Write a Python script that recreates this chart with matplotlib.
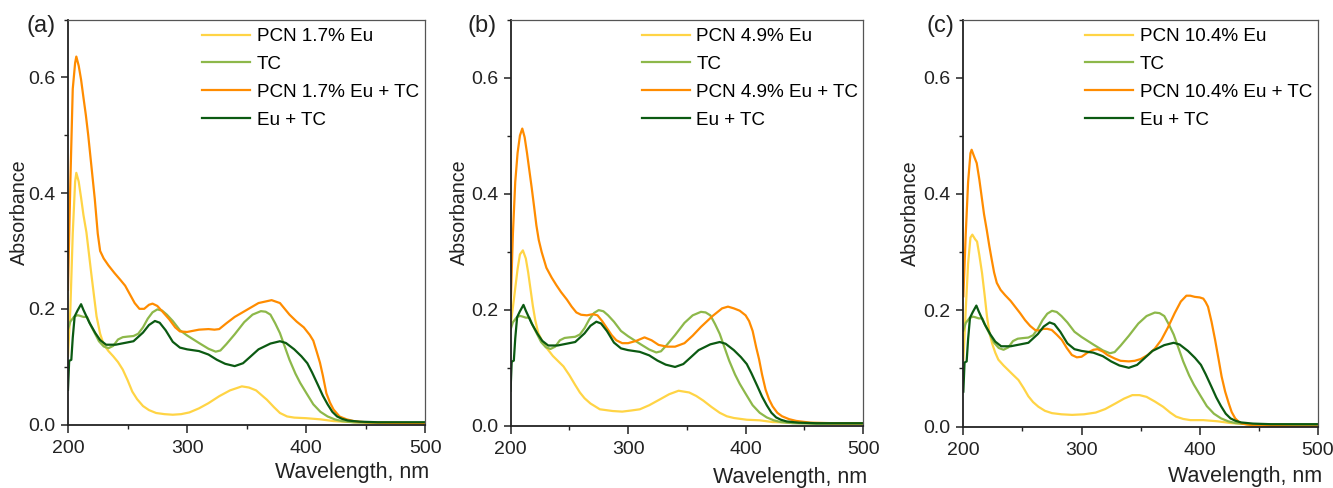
import matplotlib
matplotlib.use('Agg')
import matplotlib.pyplot as plt
from matplotlib.ticker import MultipleLocator

plt.rcParams['font.family'] = ['Liberation Sans', 'DejaVu Sans']
plt.rcParams["savefig.dpi"] = 100

# TC alone and Eu + TC (same in all three panels)
tc_wl = [200, 202, 205, 208, 210, 213, 216, 219, 222, 226, 230, 234, 238, 242, 246, 250, 255, 259,
         263, 267, 271, 275, 279, 283, 288, 294, 300, 310, 318, 324, 328, 333, 340, 348, 355, 362,
         366, 370, 374, 378, 382, 386, 391, 395, 400, 406, 412, 418, 424, 430, 440, 460, 480, 500]
tc_abs = [0.165, 0.178, 0.186, 0.189, 0.188, 0.186, 0.186, 0.172, 0.160, 0.144, 0.135, 0.132, 0.136,
          0.147, 0.151, 0.152, 0.153, 0.157, 0.168, 0.183, 0.194, 0.199, 0.197, 0.190, 0.179, 0.163,
          0.154, 0.141, 0.131, 0.126, 0.128, 0.139, 0.156, 0.177, 0.190, 0.196, 0.195, 0.190, 0.175,
          0.158, 0.135, 0.112, 0.088, 0.072, 0.055, 0.035, 0.022, 0.014, 0.009, 0.006, 0.004, 0.003,
          0.003, 0.003]

eutc_wl = [200, 201, 202.8, 204, 205.6, 208, 211, 213, 218, 223, 227, 232, 240, 245, 255, 263, 268,
           273, 277, 282, 288, 294, 300, 310, 318, 325, 332, 340, 347, 353, 360, 370, 378, 383, 390,
           396, 401, 405, 410, 414, 418, 422, 426, 430, 435, 445, 460, 480, 500]
eutc_abs = [0.060, 0.110, 0.112, 0.150, 0.187, 0.197, 0.208, 0.198, 0.176, 0.158, 0.146, 0.138,
            0.138, 0.140, 0.144, 0.159, 0.172, 0.179, 0.176, 0.163, 0.143, 0.133, 0.130, 0.127,
            0.121, 0.112, 0.105, 0.101, 0.106, 0.117, 0.130, 0.140, 0.144, 0.141, 0.130, 0.118,
            0.106, 0.090, 0.068, 0.050, 0.035, 0.022, 0.014, 0.010, 0.007, 0.005, 0.004, 0.004, 0.004]

# (a) PCN 1.7% Eu
pcn_a_wl = [200, 202, 204, 206, 207, 209, 211, 213, 215.5, 217.5, 219.5, 222, 224, 227, 230, 234,
            238, 242, 246, 250, 254, 258, 263, 268, 274, 281, 288, 295, 302, 310, 318, 327, 336,
            346, 352, 358, 367, 373, 378, 384, 390, 400, 412, 423, 440, 460, 500]
pcn_a_abs = [0.118, 0.200, 0.330, 0.420, 0.435, 0.420, 0.392, 0.362, 0.332, 0.297, 0.262, 0.220,
             0.187, 0.157, 0.138, 0.127, 0.118, 0.108, 0.095, 0.077, 0.057, 0.044, 0.032, 0.025,
             0.020, 0.018, 0.017, 0.018, 0.021, 0.028, 0.037, 0.049, 0.059, 0.066, 0.064, 0.059,
             0.043, 0.030, 0.020, 0.014, 0.012, 0.011, 0.009, 0.006, 0.004, 0.003, 0.002]
pcntc_a_wl = [200, 202, 204, 206, 207, 209, 211, 213, 215, 217, 220, 222.5, 225, 227, 230, 234, 239,
              244, 248, 252, 256, 260, 264, 268, 271, 275, 279, 285, 290, 294, 300, 310, 318, 323,
              327, 333, 340, 350, 360, 371, 378, 386, 392, 398, 403, 406, 409, 411.6, 414, 417,
              420, 423, 428, 434, 440, 450, 470, 500]
pcntc_a_abs = [0.233, 0.420, 0.580, 0.625, 0.636, 0.620, 0.596, 0.565, 0.535, 0.500, 0.440, 0.390,
               0.330, 0.300, 0.287, 0.275, 0.262, 0.250, 0.240, 0.225, 0.210, 0.200, 0.200, 0.207,
               0.209, 0.205, 0.196, 0.182, 0.168, 0.161, 0.160, 0.164, 0.165, 0.164, 0.165, 0.175,
               0.186, 0.198, 0.210, 0.215, 0.210, 0.190, 0.178, 0.168, 0.155, 0.145, 0.125, 0.107,
               0.085, 0.054, 0.038, 0.026, 0.014, 0.009, 0.006, 0.004, 0.003, 0.002]

# (b) PCN 4.9% Eu
pcn_b_wl = [200, 203, 206, 208, 210.5, 213, 215, 217, 219, 221, 223.5, 227, 231, 236, 241, 245, 250,
            255, 259, 263, 268, 276, 287, 295, 303, 310, 318, 327, 335, 343, 352, 358, 364, 371,
            378, 384, 390, 401, 412, 423, 440, 460, 500]
pcn_b_abs = [0.172, 0.220, 0.270, 0.295, 0.302, 0.288, 0.264, 0.235, 0.206, 0.182, 0.160, 0.145,
             0.133, 0.120, 0.110, 0.102, 0.087, 0.070, 0.057, 0.047, 0.038, 0.028, 0.025, 0.024,
             0.026, 0.028, 0.035, 0.045, 0.054, 0.060, 0.057, 0.051, 0.043, 0.032, 0.022, 0.016,
             0.013, 0.010, 0.009, 0.006, 0.005, 0.004, 0.003]
pcntc_b_wl = [200, 202, 204, 206, 208, 210, 212, 214, 216, 218, 220, 222, 224, 226.5, 230.5, 235,
              239, 243, 248, 252, 256, 260, 265, 270, 274, 278, 282, 286, 290, 295, 300, 307, 314,
              320, 326, 333, 340, 348, 355, 362, 372, 380, 385, 390, 395, 400, 403, 406, 409,
              411.5, 414, 417, 420, 423, 427, 431, 437, 443, 455, 475, 500]
pcntc_b_abs = [0.200, 0.330, 0.420, 0.470, 0.500, 0.512, 0.497, 0.470, 0.440, 0.410, 0.378, 0.345,
               0.320, 0.299, 0.272, 0.255, 0.242, 0.230, 0.217, 0.205, 0.195, 0.191, 0.190, 0.192,
               0.190, 0.180, 0.168, 0.156, 0.147, 0.142, 0.142, 0.146, 0.152, 0.147, 0.139, 0.136,
               0.136, 0.142, 0.155, 0.170, 0.189, 0.202, 0.205, 0.202, 0.198, 0.190, 0.180, 0.163,
               0.135, 0.114, 0.088, 0.062, 0.045, 0.033, 0.022, 0.016, 0.011, 0.008, 0.005, 0.004,
               0.004]

# (c) PCN 10.4% Eu
pcn_c_wl = [200, 202, 204, 206, 207.6, 210, 211.6, 213.5, 215.8, 218, 220, 222, 224.3, 227, 229.6,
            234, 238, 242, 246.6, 251, 255, 259, 263.5, 269, 275, 283, 292, 302, 312, 320, 329,
            336, 343, 349, 355, 362, 369, 375, 380, 386, 392, 403, 415, 426, 440, 460, 500]
pcn_c_abs = [0.115, 0.200, 0.280, 0.325, 0.330, 0.322, 0.318, 0.295, 0.264, 0.226, 0.189, 0.162,
             0.143, 0.127, 0.115, 0.105, 0.097, 0.089, 0.080, 0.066, 0.052, 0.042, 0.034, 0.027,
             0.023, 0.021, 0.020, 0.021, 0.024, 0.030, 0.040, 0.048, 0.054, 0.054, 0.051, 0.043,
             0.034, 0.024, 0.017, 0.013, 0.011, 0.011, 0.009, 0.006, 0.004, 0.003, 0.003]
pcntc_c_wl = [200, 202, 204, 206, 207, 209, 211.3, 213.5, 215.5, 217.5, 219.8, 222, 224, 226, 228.3,
              231.5, 235.3, 240, 243.8, 248, 252.2, 256.5, 260.7, 264, 267.7, 271, 274.8, 279,
              283.3, 287.5, 291.8, 296, 300, 305, 310, 313.5, 318, 322, 328, 333, 340, 345, 350,
              356, 362, 367.5, 373, 378.8, 384, 388.7, 392, 395.8, 400, 403, 405, 407, 410, 413,
              416, 418.5, 421.5, 424.5, 427, 430, 433, 436, 445, 460, 480, 500]
pcntc_c_abs = [0.224, 0.330, 0.420, 0.470, 0.476, 0.465, 0.453, 0.425, 0.395, 0.365, 0.338, 0.310,
               0.287, 0.265, 0.247, 0.235, 0.226, 0.216, 0.206, 0.195, 0.183, 0.173, 0.166, 0.165,
               0.168, 0.168, 0.166, 0.158, 0.149, 0.135, 0.123, 0.119, 0.120, 0.127, 0.132, 0.133,
               0.129, 0.123, 0.117, 0.113, 0.112, 0.113, 0.116, 0.123, 0.134, 0.149, 0.170, 0.195,
               0.215, 0.225, 0.225, 0.223, 0.222, 0.220, 0.214, 0.206, 0.180, 0.149, 0.115, 0.086,
               0.060, 0.040, 0.025, 0.014, 0.008, 0.005, 0.002, 0.001, 0.000, 0.000]

doping = ['1.7%', '4.9%', '10.4%']
panel_tags = ['(a)', '(b)', '(c)']
pcn_series = [(pcn_a_wl, pcn_a_abs), (pcn_b_wl, pcn_b_abs), (pcn_c_wl, pcn_c_abs)]
pcntc_series = [(pcntc_a_wl, pcntc_a_abs), (pcntc_b_wl, pcntc_b_abs), (pcntc_c_wl, pcntc_c_abs)]

colors = {'pcn': '#FFD445', 'tc': '#8DB84A', 'pcntc': '#FF8C00', 'eutc': '#0B5A12'}

# axes boxes in figure fraction, taken from the reference layout
boxes = [[0.051, 0.130, 0.268, 0.830],
         [0.383, 0.128, 0.2645, 0.832],
         [0.7227, 0.126, 0.266, 0.834]]
legend_x = [0.375, 0.372, 0.343]
ylabel_x = [-0.137, -0.144, -0.148]
xlabel_y = [-0.118, -0.128, -0.124]
tag_x = [-0.076, -0.081, -0.066]

fig = plt.figure(figsize=(13.33, 4.88))
for i in range(3):
    ax = fig.add_axes(boxes[i])
    lw = 1.6
    ax.plot(pcn_series[i][0], pcn_series[i][1], color=colors['pcn'], lw=lw,
            label=f'PCN {doping[i]} Eu')
    ax.plot(tc_wl, tc_abs, color=colors['tc'], lw=lw, label='TC')
    ax.plot(pcntc_series[i][0], pcntc_series[i][1], color=colors['pcntc'], lw=lw,
            label=f'PCN {doping[i]} Eu + TC')
    ax.plot(eutc_wl, eutc_abs, color=colors['eutc'], lw=lw, label='Eu + TC')

    ax.set_xlim(200, 500)
    ax.set_ylim(0, 0.70)
    ax.xaxis.set_major_locator(MultipleLocator(100))
    ax.xaxis.set_minor_locator(MultipleLocator(50))
    ax.yaxis.set_major_locator(MultipleLocator(0.2))
    ax.yaxis.set_minor_locator(MultipleLocator(0.1))
    ax.yaxis.set_major_formatter(plt.FormatStrFormatter('%.1f'))
    ax.tick_params(which='major', direction='out', length=5, width=1.1, colors='#222222',
                   labelsize=14, pad=4)
    ax.tick_params(which='minor', direction='out', length=3, width=1.0, colors='#222222')
    ax.tick_params(axis='x', which='major', length=5.5, pad=5.5)
    ax.tick_params(axis='y', which='both', right=False)
    ax.tick_params(axis='x', which='both', top=False)
    for side in ['left', 'bottom']:
        ax.spines[side].set_linewidth(1.3)
        ax.spines[side].set_color('#222222')
    for side in ['top', 'right']:
        ax.spines[side].set_linewidth(0.9)
        ax.spines[side].set_color('#555555')

    ax.set_ylabel('Absorbance', fontsize=14.2, color='#222222', va='center')
    ax.yaxis.set_label_coords(ylabel_x[i], 0.525)
    ax.set_xlabel('Wavelength, nm', fontsize=15.5, color='#222222', ha='right', va='center')
    ax.xaxis.set_label_coords(1.012, xlabel_y[i])
    ax.text(tag_x[i], 0.983, panel_tags[i], transform=ax.transAxes, fontsize=17,
            ha='center', va='center', color='#222222')

    ax.legend(loc='upper left', bbox_to_anchor=(legend_x[i], 0.979), frameon=False,
              fontsize=13.6, handlelength=2.55, handletextpad=0.35, labelspacing=0.56,
              borderpad=0, borderaxespad=0)

fig.savefig('out.png')
